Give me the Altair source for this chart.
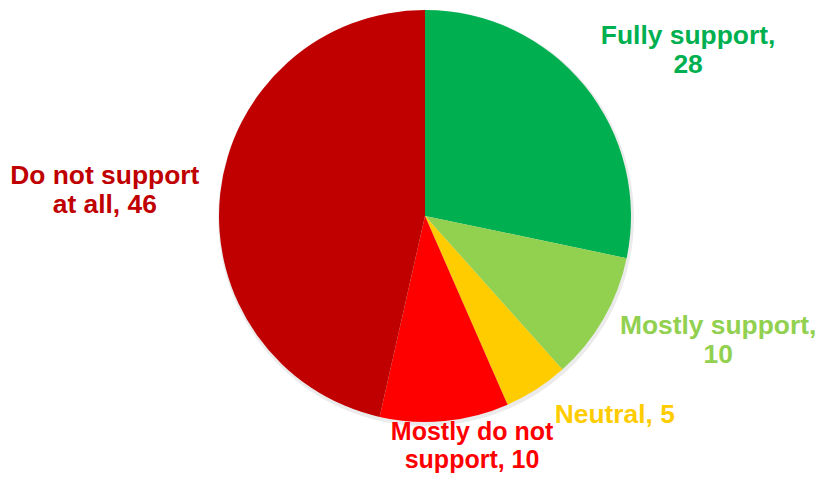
import altair as alt
import pandas as pd

categories = ["Fully support", "Mostly support", "Neutral", "Mostly do not support", "Do not support at all"]
values = [28, 10, 5, 10, 46]
colors = ["#00B050", "#92D050", "#FFCC00", "#FF0000", "#C00000"]
labels = ["Fully support,\n28", "Mostly support,\n10", "Neutral, 5", "Mostly do not\nsupport, 10", "Do not support\nat all, 46"]

df = pd.DataFrame({
    "category": categories,
    "value": values,
    "order": list(range(len(categories))),
    "label": labels,
})
total = sum(values)

CX, CY, R = 417, 208, 206
LABEL_R = 290
# (dx, dy, fontSize, lineHeight) per label
label_layout = {
    "Fully support": (38, 2.5, 26.4, 29),
    "Mostly support": (42, -35.5, 26.4, 29),
    "Neutral": (33, -45, 26.4, 29),
    "Mostly do not support": (19.5, -72.5, 25, 28),
    "Do not support at all": (-32, -8, 26.4, 29),
}

color_scale = alt.Scale(domain=categories, range=colors)
theta_scale = alt.Scale(domain=[0, total])

base = alt.Chart(df)

shadow = base.mark_arc(outerRadius=R + 2, color="#000000", opacity=0.08).encode(
    theta=alt.Theta("value:Q", stack=True, scale=theta_scale),
    order=alt.Order("order:Q"),
    x=alt.value(CX + 1), y=alt.value(CY + 2),
)

arcs = base.mark_arc(outerRadius=R).encode(
    theta=alt.Theta("value:Q", stack=True, scale=theta_scale),
    color=alt.Color("category:N", scale=color_scale, legend=None),
    order=alt.Order("order:Q"),
    x=alt.value(CX), y=alt.value(CY),
)

layers = [shadow, arcs]
for cat, col in zip(categories, colors):
    dx, dy, fs, lh = label_layout[cat]
    t = base.transform_window(
        cum="sum(value)", sort=[alt.SortField("order")], frame=[None, 0]
    ).transform_calculate(
        mid="datum.cum - datum.value / 2"
    ).transform_filter(
        alt.datum.category == cat
    ).mark_text(
        radius=LABEL_R, dx=dx, dy=dy, font="Liberation Sans", fontWeight="bold",
        fontSize=fs, lineHeight=lh, lineBreak="\n", align="center", baseline="middle",
        color=col,
    ).encode(
        theta=alt.Theta("mid:Q", stack=None, scale=theta_scale),
        text="label:N",
        x=alt.value(CX), y=alt.value(CY),
    )
    layers.append(t)

chart = alt.layer(*layers).properties(
    width=809, height=466, autosize="none", padding=0, background="white"
).configure_view(stroke=None)

chart.save("out.html", embed_options={"renderer": "svg", "actions": False})
